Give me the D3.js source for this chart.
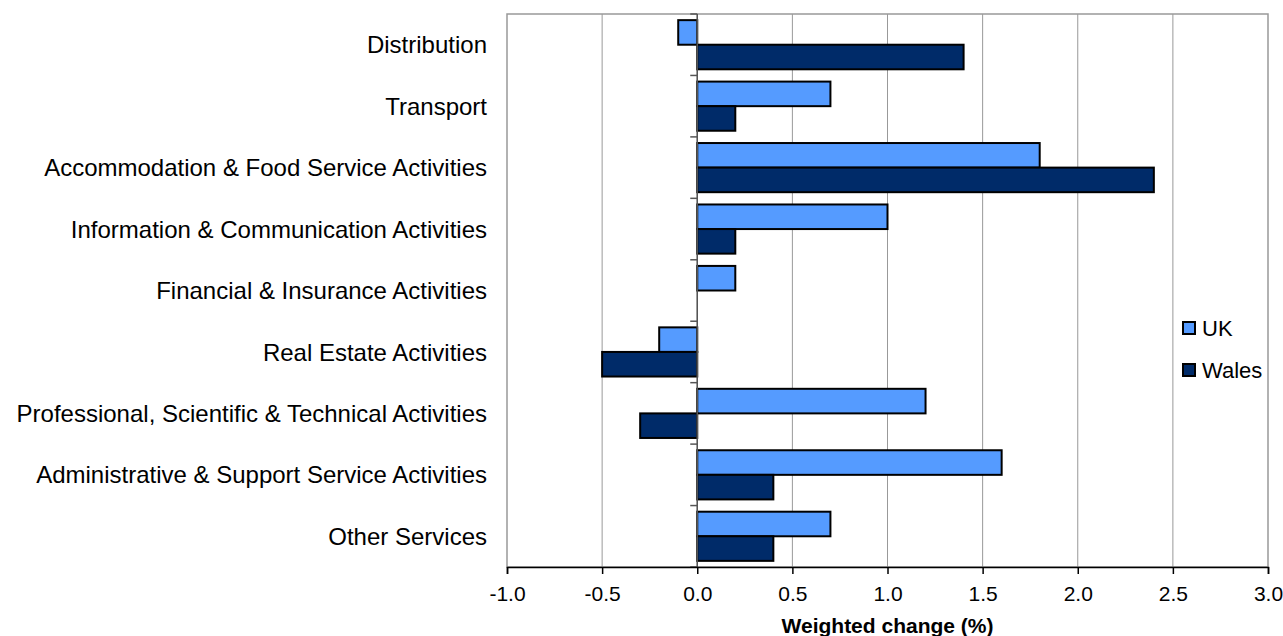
<!DOCTYPE html>
<html>
<head>
<meta charset="utf-8">
<script src="https://cdn.jsdelivr.net/npm/d3@7"></script>
<style>
  body { margin: 0; background: #fff; }
  text { font-family: "Liberation Sans", Arial, sans-serif; fill: #000; }
</style>
</head>
<body>
<svg id="chart" width="1283" height="636"></svg>
<script>
var categories = ["Distribution", "Transport", "Accommodation & Food Service Activities",
  "Information & Communication Activities", "Financial & Insurance Activities",
  "Real Estate Activities", "Professional, Scientific & Technical Activities",
  "Administrative & Support Service Activities", "Other Services"];
var ukValues = [-0.1, 0.7, 1.8, 1.0, 0.2, -0.2, 1.2, 1.6, 0.7];
var walesValues = [1.4, 0.2, 2.4, 0.2, 0, -0.5, -0.3, 0.4, 0.4];
var seriesNames = ["UK", "Wales"];
var xTicks = [-1.0, -0.5, 0.0, 0.5, 1.0, 1.5, 2.0, 2.5, 3.0];

var colors = ["#559bff", "#002b69"];

var svg = d3.select("#chart");
var plotL = 507, plotR = 1268, plotT = 14, plotB = 567;

var x = d3.scaleLinear().domain([-1, 3]).range([plotL, plotR]);
var y = d3.scaleBand().domain(categories).range([plotT, plotB]).paddingInner(0.2).paddingOuter(0.1);
var sub = d3.scaleBand().domain(seriesNames).range([0, y.bandwidth()]);

// gridlines
svg.append("g").selectAll("line")
  .data(xTicks.slice(1, -1))
  .enter().append("line")
  .attr("x1", function(d) { return x(d); })
  .attr("x2", function(d) { return x(d); })
  .attr("y1", plotT).attr("y2", plotB)
  .attr("stroke", "#999").attr("stroke-width", 1);

// plot border
svg.append("rect")
  .attr("x", plotL).attr("y", plotT)
  .attr("width", plotR - plotL).attr("height", plotB - plotT)
  .attr("fill", "none").attr("stroke", "#999").attr("stroke-width", 1.5);

// bars
var data = [];
categories.forEach(function(c, i) {
  data.push({cat: c, s: "UK", v: ukValues[i]});
  data.push({cat: c, s: "Wales", v: walesValues[i]});
});

svg.append("g").selectAll("rect")
  .data(data.filter(function(d) { return d.v !== 0; }))
  .enter().append("rect")
  .attr("x", function(d) { return x(Math.min(0, d.v)); })
  .attr("y", function(d) { return y(d.cat) + sub(d.s); })
  .attr("width", function(d) { return Math.abs(x(d.v) - x(0)); })
  .attr("height", sub.bandwidth())
  .attr("fill", function(d) { return d.s === "UK" ? colors[0] : colors[1]; })
  .attr("stroke", "#000").attr("stroke-width", 2);

// zero axis with category ticks
svg.append("line")
  .attr("x1", x(0)).attr("x2", x(0))
  .attr("y1", plotT).attr("y2", plotB)
  .attr("stroke", "#555").attr("stroke-width", 1.5);

var boundaries = d3.range(categories.length + 1).map(function(i) { return plotT + i * (plotB - plotT) / categories.length; });
svg.append("g").selectAll("line")
  .data(boundaries)
  .enter().append("line")
  .attr("x1", x(0) - 7).attr("x2", x(0))
  .attr("y1", function(d) { return d; }).attr("y2", function(d) { return d; })
  .attr("stroke", "#555").attr("stroke-width", 1.5);

// bottom axis
var xAxis = d3.axisBottom(x).tickValues(xTicks).tickSize(7)
  .tickFormat(function(d) { return d3.format(".1f")(d).replace("\u2212", "-"); });
var ax = svg.append("g").attr("transform", "translate(0," + plotB + ")").call(xAxis);
ax.select(".domain").attr("stroke", "#000").attr("stroke-width", 1.5);
ax.selectAll(".tick line").attr("stroke", "#000").attr("stroke-width", 1.5);
ax.selectAll(".tick text")
  .attr("y", 19)
  .style("font-family", "Liberation Sans, Arial, sans-serif")
  .style("font-size", "21px")
  .attr("fill", "#000");

// category labels
svg.append("g").selectAll("text")
  .data(categories)
  .enter().append("text")
  .attr("x", 487)
  .attr("y", function(d) { return y(d) + y.bandwidth() / 2; })
  .attr("dy", "0.36em")
  .attr("text-anchor", "end")
  .style("font-size", "24px")
  .text(function(d) { return d; });

// axis title
svg.append("text")
  .attr("x", x(1)).attr("y", 633)
  .attr("text-anchor", "middle")
  .style("font-size", "21px").style("font-weight", "bold")
  .text("Weighted change (%)");

// legend
var legend = svg.append("g").selectAll("g")
  .data(seriesNames)
  .enter().append("g")
  .attr("transform", function(d, i) { return "translate(1183," + (322 + i * 42) + ")"; });
legend.append("rect")
  .attr("width", 12).attr("height", 12)
  .attr("fill", function(d, i) { return colors[i]; })
  .attr("stroke", "#000").attr("stroke-width", 2);
legend.append("text")
  .attr("x", 19).attr("y", 6).attr("dy", "0.36em")
  .style("font-size", "22px")
  .text(function(d) { return d; });
</script>
</body>
</html>
